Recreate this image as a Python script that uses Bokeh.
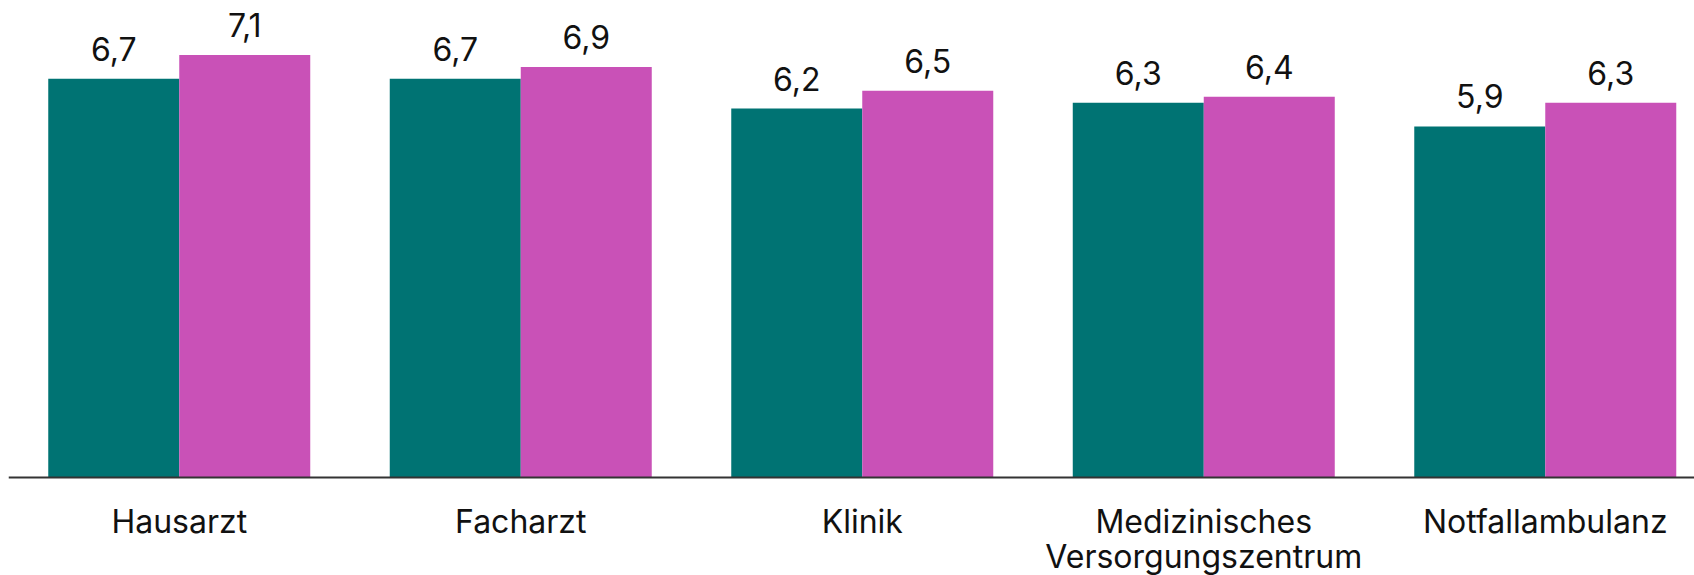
from bokeh.plotting import figure
from bokeh.models import Range1d, ColumnDataSource, Span
from bokeh.core.properties import value
from bokeh.embed import file_html
from bokeh.resources import INLINE

categories = ["Hausarzt", "Facharzt", "Klinik", "Medizinisches\nVersorgungszentrum", "Notfallambulanz"]
series_a = [6.7, 6.7, 6.2, 6.3, 5.9]
series_b = [7.1, 6.9, 6.5, 6.4, 6.3]

TEAL = "#007373"
PINK = "#C951B7"
FONT = "Inter"
TEXT = "#111111"

bar_w = 0.3836
xs = list(range(len(categories)))

def fmt(v):
    return f"{v:.1f}".replace(".", ",")

src_a = ColumnDataSource(dict(x=[i - bar_w / 2 for i in xs], top=series_a, label=[fmt(v) for v in series_a]))
src_b = ColumnDataSource(dict(x=[i + bar_w / 2 for i in xs], top=series_b, label=[fmt(v) for v in series_b]))

# category labels, one entry per text line
cx, ctext, coff = [], [], []
for i, c in enumerate(categories):
    for j, line in enumerate(c.split("\n")):
        cx.append(i)
        ctext.append(line)
        coff.append(44 + 35 * j)
src_c = ColumnDataSource(dict(x=cx, y=[0] * len(cx), text=ctext, off=coff))

p = figure(width=1694, height=575, output_backend="svg", toolbar_location=None,
           x_range=Range1d(-0.5, 4.437), y_range=Range1d(-1.647, 8.017),
           x_axis_location=None, y_axis_location=None,
           min_border_left=8, min_border_right=0, min_border_top=0, min_border_bottom=0)

p.vbar(x="x", top="top", width=bar_w, bottom=0, source=src_a, fill_color=TEAL, line_color=None)
p.vbar(x="x", top="top", width=bar_w, bottom=0, source=src_b, fill_color=PINK, line_color=None)

for src in (src_a, src_b):
    p.text(x="x", y="top", text="label", source=src, y_offset=-30,
           text_align="center", text_baseline="alphabetic",
           text_font=value(FONT), text_font_size="32px", text_color=TEXT)

p.text(x="x", y="y", text="text", source=src_c, y_offset="off",
       text_align="center", text_baseline="alphabetic",
       text_font=value(FONT), text_font_size="32px", text_color=TEXT)

p.add_layout(Span(location=0, dimension="width", line_color="#333333", line_width=2))

p.xgrid.visible = False
p.ygrid.visible = False
p.outline_line_color = None

open("out.html", "w").write(file_html(p, INLINE))
